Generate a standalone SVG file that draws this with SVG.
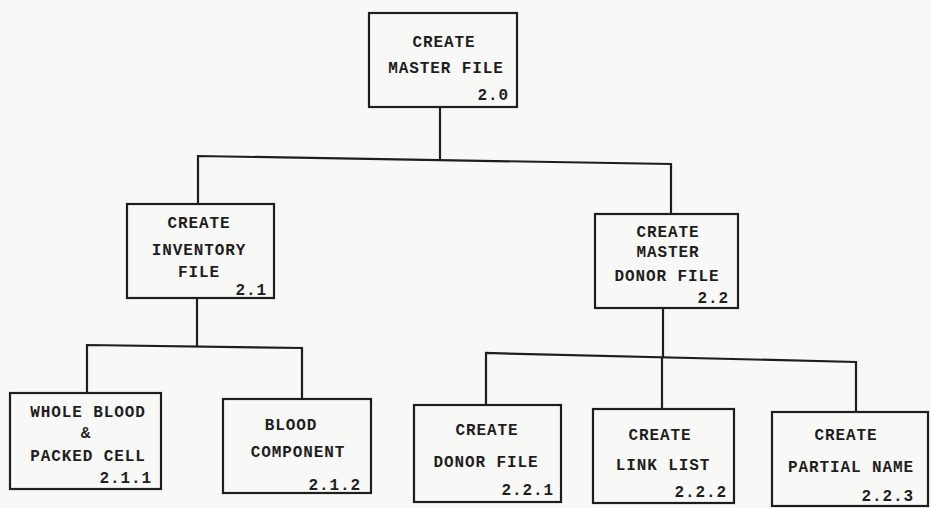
<svg xmlns="http://www.w3.org/2000/svg" width="931" height="508" viewBox="0 0 931 508">
<style>
.box{fill:none;stroke:#1e1e1e;stroke-width:2.2}
.ln{fill:none;stroke:#1e1e1e;stroke-width:2.2}
text{font-family:"Liberation Mono","Courier New",monospace;font-size:16px;fill:#1e1e1e;letter-spacing:0.9px;font-weight:bold}
.c{text-anchor:middle}
.n{text-anchor:end}
</style>
<rect x="0" y="0" width="931" height="508" fill="#f8f8f6"/>
<g id="connectors">
<polyline class="ln" points="440,107 440,159"/>
<polyline class="ln" points="198,204 198,156 671,164 671,214"/>
<polyline class="ln" points="197,298 197,346"/>
<polyline class="ln" points="87,393 87,345 302,348 302,399"/>
<polyline class="ln" points="663,308 663,357"/>
<polyline class="ln" points="486,405 486,353 856,362 856,412"/>
<polyline class="ln" points="662,357 662,409"/>
</g>
<g id="n2.0">
<rect class="box" x="369" y="13" width="148" height="94"/>
<text class="c" x="444" y="47">CREATE</text>
<text class="c" x="446" y="73">MASTER FILE</text>
<text class="n" x="509" y="100">2.0</text>
</g>
<g id="n2.1">
<rect class="box" x="127" y="204" width="147" height="94"/>
<text class="c" x="199" y="228">CREATE</text>
<text class="c" x="199" y="255">INVENTORY</text>
<text class="c" x="199" y="277">FILE</text>
<text class="n" x="267" y="295">2.1</text>
</g>
<g id="n2.2">
<rect class="box" x="595" y="214" width="143" height="94"/>
<text class="c" x="668" y="237">CREATE</text>
<text class="c" x="668" y="257">MASTER</text>
<text class="c" x="667" y="281">DONOR FILE</text>
<text class="n" x="729" y="303">2.2</text>
</g>
<g id="n2.1.1">
<rect class="box" x="10" y="393" width="151" height="96"/>
<text class="c" x="88" y="417">WHOLE BLOOD</text>
<text class="c" x="86" y="438">&amp;</text>
<text class="c" x="88" y="461">PACKED CELL</text>
<text class="n" x="152" y="483">2.1.1</text>
</g>
<g id="n2.1.2">
<rect class="box" x="223" y="399" width="148" height="94"/>
<text class="c" x="291" y="430">BLOOD</text>
<text class="c" x="298" y="457">COMPONENT</text>
<text class="n" x="361" y="490">2.1.2</text>
</g>
<g id="n2.2.1">
<rect class="box" x="414" y="405" width="147" height="97"/>
<text class="c" x="487" y="435">CREATE</text>
<text class="c" x="486" y="467">DONOR FILE</text>
<text class="n" x="554" y="495">2.2.1</text>
</g>
<g id="n2.2.2">
<rect class="box" x="593" y="409" width="141" height="94"/>
<text class="c" x="660" y="440">CREATE</text>
<text class="c" x="663" y="470">LINK LIST</text>
<text class="n" x="727" y="497">2.2.2</text>
</g>
<g id="n2.2.3">
<rect class="box" x="772" y="412" width="156" height="94"/>
<text class="c" x="846" y="440">CREATE</text>
<text class="c" x="851" y="472">PARTIAL NAME</text>
<text class="n" x="914" y="501">2.2.3</text>
</g>
</svg>
